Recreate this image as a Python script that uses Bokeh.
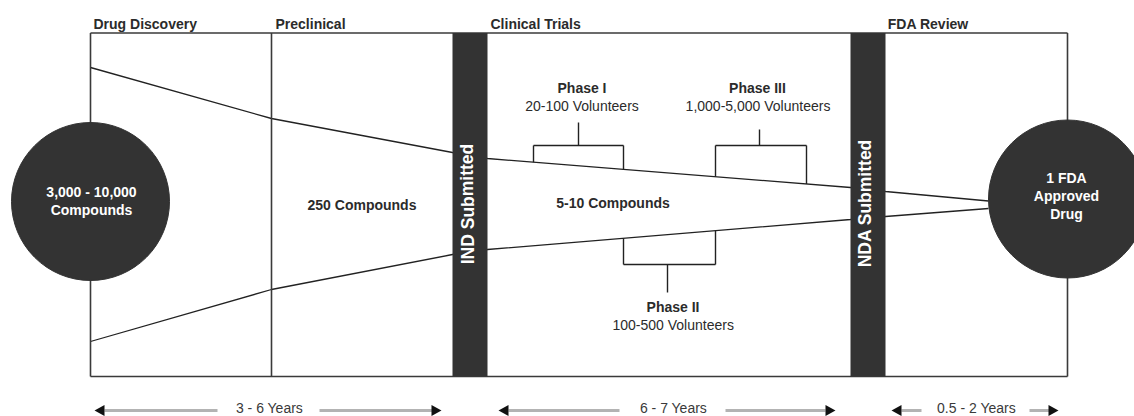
from bokeh.plotting import figure
from bokeh.models import Range1d
from bokeh.core.properties import value
from bokeh.embed import file_html
from bokeh.resources import INLINE

# ---------------- content (texts) ----------------
stages = ["Drug Discovery", "Preclinical", "Clinical Trials", "FDA Review"]
milestones = ["IND Submitted", "NDA Submitted"]
start_label = ["3,000 - 10,000", "Compounds"]
mid_labels = ["250 Compounds", "5-10 Compounds"]
end_label = ["1 FDA", "Approved", "Drug"]
phases = ["Phase I", "Phase II", "Phase III"]
volunteers = ["20-100 Volunteers", "100-500 Volunteers", "1,000-5,000 Volunteers"]
durations = ["3 - 6 Years", "6 - 7 Years", "0.5 - 2 Years"]

# ---------------- layout (diagram geometry, page pixels) ----------------
FONT = value("Liberation Sans")
DARK = "#333333"
INK = "#2b2b2b"
X0, X1, YT, YB = 90, 1067, 32.5, 376
stage_x = [93, 275, 490, 887.3]
divider_x = 271
bars = [(452, 487), (850, 885)]
bar_text_x = [467, 864.5]
bar_text_y = [203.5, 202.7]
circles = [(90, 201, 79), (1067, 198.5, 79)]
top_pts = [(90, 67), (271, 118), (452, 152), (487, 158), (850, 187), (885, 191), (988, 200.5)]
bot_pts = [(90, 341), (271, 289), (452, 254), (487, 249), (850, 219), (885, 216), (988, 208)]

p = figure(width=1134, height=416, x_range=Range1d(0, 1134), y_range=Range1d(416, 0),
           output_backend="svg", toolbar_location=None, min_border=0,
           x_axis_type=None, y_axis_type=None, background_fill_color="white")
p.grid.visible = False
p.outline_line_color = None

# funnel lines
p.line([a for a, b in top_pts], [b for a, b in top_pts], line_color="#222222", line_width=1.3)
p.line([a for a, b in bot_pts], [b for a, b in bot_pts], line_color="#222222", line_width=1.3)

# phase brackets
br_color = "#222222"
br = []
# Phase I (above)
br += [((578, 122), (578, 145)), ((533, 145), (623, 145)), ((533, 145), (533, 161.7)), ((623, 145), (623, 168.9))]
# Phase III (above)
br += [((759, 129), (759, 145)), ((715, 145), (806, 145)), ((715, 145), (715, 176.2)), ((806, 145), (806, 183.5))]
# Phase II (below)
br += [((667, 264), (667, 292)), ((623, 264), (715, 264)), ((623, 264), (623, 237.8)), ((715, 264), (715, 230.2))]
p.segment(x0=[s[0][0] for s in br], y0=[s[0][1] for s in br],
          x1=[s[1][0] for s in br], y1=[s[1][1] for s in br],
          line_color=br_color, line_width=1.4)

# frame
fr = [((X0, YT), (X1, YT)), ((X0, YB), (X1, YB)), ((X0, YT), (X0, YB)), ((X1, YT), (X1, YB)),
      ((divider_x, YT), (divider_x, YB))]
p.segment(x0=[s[0][0] for s in fr], y0=[s[0][1] for s in fr],
          x1=[s[1][0] for s in fr], y1=[s[1][1] for s in fr],
          line_color="#3a3a3a", line_width=1.6)

# milestone bars
p.quad(left=[b[0] for b in bars], right=[b[1] for b in bars], top=[YT] * 2, bottom=[YB] * 2,
       fill_color=DARK, line_color=None)

# circles
p.circle(x=[c[0] for c in circles], y=[c[1] for c in circles], radius=[c[2] for c in circles],
         fill_color=DARK, line_color=DARK)

common = dict(text_font=FONT, text_font_size="14px", text_align="center", text_baseline="middle")

# stage headers
p.text(x=stage_x, y=[23.8] * 4, text=stages, text_font=FONT, text_font_size="14px",
       text_font_style="bold", text_color=INK, text_align="left", text_baseline="middle")

# milestones (rotated)
p.text(x=bar_text_x, y=bar_text_y, text=milestones, angle=1.5708, text_font=FONT,
       text_font_size="17.5px", text_font_style="bold", text_color="white",
       text_align="center", text_baseline="middle")

# circle labels
p.text(x=[91, 91], y=[191.3, 209], text=start_label, text_font_style="bold",
       text_color="white", **common)
p.text(x=[1066] * 3, y=[177.8, 195.2, 213.3], text=end_label, text_font_style="bold",
       text_color="white", **common)

# compounds in the funnel
p.text(x=[361.5, 612.5], y=[204.3, 202.7], text=mid_labels, text_font_style="bold",
       text_color=INK, **common)

# phase labels
p.text(x=[581.5, 672.5, 757], y=[87.7, 306.5, 87.7], text=phases, text_font_style="bold",
       text_color=INK, **common)
p.text(x=[581.5, 672.7, 757.5], y=[105.5, 324.5, 105.5], text=volunteers,
       text_color=INK, **common)

# duration arrows
AY = 410
arrows = [  # tipL, grayL0, grayL1, textX, grayR0, grayR1, tipR
    (94, 104, 217, 269, 319, 432, 441),
    (498, 508, 619, 673, 725, 825, 835),
    (891, 901, 921, 976, 1029, 1049, 1058),
]
gx0, gx1 = [], []
for a in arrows:
    gx0 += [a[1], a[4]]
    gx1 += [a[2], a[5]]
p.segment(x0=gx0, y0=[AY] * len(gx0), x1=gx1, y1=[AY] * len(gx1), line_color="#b3b3b3", line_width=3)
hx, hy = [], []
for a in arrows:
    hx.append([a[0], a[0] + 10, a[0] + 10])
    hy.append([AY, AY - 5.5, AY + 5.5])
    hx.append([a[6], a[6] - 10, a[6] - 10])
    hy.append([AY, AY - 5.5, AY + 5.5])
p.patches(hx, hy, fill_color="#111111", line_color=None)
p.text(x=[a[3] for a in arrows], y=[407.5] * 3, text=durations, text_color="#3a3a3a", **common)

open("out.html", "w").write(file_html(p, INLINE))
